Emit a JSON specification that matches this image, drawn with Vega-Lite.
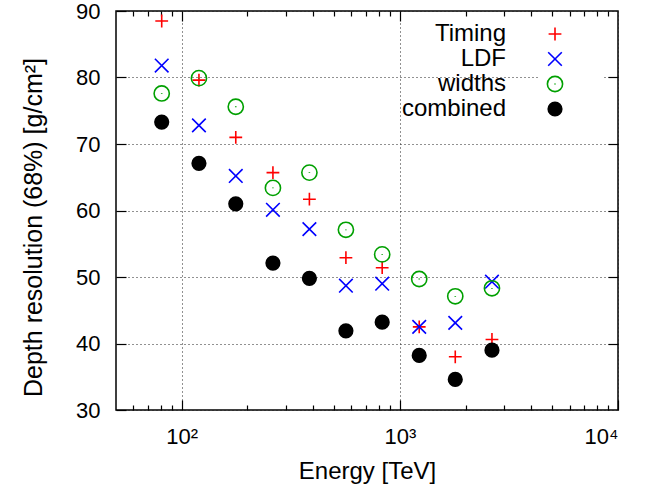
{
  "$schema": "https://vega.github.io/schema/vega-lite/v6.json",
  "width": 502,
  "height": 399,
  "autosize": "none",
  "padding": {"left": 116, "top": 11, "right": 51, "bottom": 80},
  "background": "white",
  "config": {
    "font": "Liberation Sans",
    "view": {"stroke": "#000", "strokeWidth": 1.5},
    "axis": {"labelColor": "#000", "titleColor": "#000", "tickColor": "#000", "tickWidth": 1.2, "domain": false, "titleFontWeight": "normal", "labelFont": "Liberation Sans", "titleFont": "Liberation Sans"}
  },
  "data": {
    "values": [
      {"E": 81, "v": 88.5, "s": "Timing"},
      {"E": 120, "v": 79.6, "s": "Timing"},
      {"E": 177, "v": 71.0, "s": "Timing"},
      {"E": 262, "v": 65.7, "s": "Timing"},
      {"E": 385, "v": 61.7, "s": "Timing"},
      {"E": 566, "v": 52.9, "s": "Timing"},
      {"E": 830, "v": 51.4, "s": "Timing"},
      {"E": 1227, "v": 42.5, "s": "Timing"},
      {"E": 1795, "v": 38.0, "s": "Timing"},
      {"E": 2644, "v": 40.6, "s": "Timing"},
      {"E": 81, "v": 81.8, "s": "LDF"},
      {"E": 120, "v": 72.8, "s": "LDF"},
      {"E": 177, "v": 65.2, "s": "LDF"},
      {"E": 262, "v": 60.1, "s": "LDF"},
      {"E": 385, "v": 57.2, "s": "LDF"},
      {"E": 566, "v": 48.7, "s": "LDF"},
      {"E": 830, "v": 49.0, "s": "LDF"},
      {"E": 1227, "v": 42.5, "s": "LDF"},
      {"E": 1795, "v": 43.1, "s": "LDF"},
      {"E": 2644, "v": 49.3, "s": "LDF"},
      {"E": 81, "v": 77.6, "s": "widths"},
      {"E": 120, "v": 79.9, "s": "widths"},
      {"E": 177, "v": 75.6, "s": "widths"},
      {"E": 262, "v": 63.4, "s": "widths"},
      {"E": 385, "v": 65.7, "s": "widths"},
      {"E": 566, "v": 57.1, "s": "widths"},
      {"E": 830, "v": 53.4, "s": "widths"},
      {"E": 1227, "v": 49.7, "s": "widths"},
      {"E": 1795, "v": 47.1, "s": "widths"},
      {"E": 2644, "v": 48.3, "s": "widths"},
      {"E": 81, "v": 73.3, "s": "combined"},
      {"E": 120, "v": 67.1, "s": "combined"},
      {"E": 177, "v": 61.0, "s": "combined"},
      {"E": 262, "v": 52.1, "s": "combined"},
      {"E": 385, "v": 49.8, "s": "combined"},
      {"E": 566, "v": 41.9, "s": "combined"},
      {"E": 830, "v": 43.2, "s": "combined"},
      {"E": 1227, "v": 38.2, "s": "combined"},
      {"E": 1795, "v": 34.6, "s": "combined"},
      {"E": 2644, "v": 39.0, "s": "combined"}
    ]
  },
  "resolve": {"axis": {"x": "independent", "y": "independent"}},
  "layer": [
    {
      "mark": {"type": "point", "size": 256, "strokeWidth": 1.6, "opacity": 1},
      "encoding": {
        "x": {
          "field": "E", "type": "quantitative",
          "scale": {"type": "log", "domain": [50, 10000], "nice": false},
          "axis": {
            "orient": "bottom", "values": [100, 1000, 10000],
            "labelExpr": "datum.value == 100 ? '10²' : datum.value == 1000 ? '10³' : '10⁴'",
            "labelFontSize": 22, "labelPadding": 43, "labelBaseline": "alphabetic",
            "tickSize": -10, "grid": true, "gridDash": [1, 3], "gridColor": "#222", "gridOpacity": 1, "gridWidth": 1,
            "title": "Energy [TeV]", "titleFontSize": 24, "titleY": 68, "titleBaseline": "alphabetic"
          }
        },
        "y": {
          "field": "v", "type": "quantitative",
          "scale": {"domain": [30, 90], "nice": false, "zero": false},
          "axis": {
            "orient": "left", "values": [30, 40, 50, 60, 70, 80, 90],
            "labelFontSize": 22, "labelPadding": 26,
            "tickSize": -10, "grid": true, "gridDash": [1, 3], "gridColor": "#222", "gridOpacity": 1, "gridWidth": 1,
            "title": "Depth resolution (68%) [g/cm²]", "titleFontSize": 25,
            "titleX": -83, "titleY": 216, "titleAngle": -90, "titleAlign": "center", "titleBaseline": "middle"
          }
        },
        "shape": {
          "field": "s", "type": "nominal",
          "scale": {
            "domain": ["Timing", "LDF", "widths", "combined"],
            "range": [
              "M-0.8,0H0.8M0,-0.8V0.8",
              "M-0.85,-0.85L0.85,0.85M-0.85,0.85L0.85,-0.85",
              "M0.95,0A0.95,0.95,0,1,1,-0.95,0A0.95,0.95,0,1,1,0.95,0ZM0,-0.05L0,0.05",
              "M0.85,0A0.85,0.85,0,1,1,-0.85,0A0.85,0.85,0,1,1,0.85,0Z"
            ]
          },
          "legend": {
            "title": " ", "titleOrient": "right", "titlePadding": 34, "titleFontSize": 10,
            "orient": "none", "legendX": 423, "legendY": 7,
            "fillColor": "white", "padding": 4,
            "labelAlign": "right", "labelOffset": -61, "labelFontSize": 24, "labelColor": "#000", "labelFont": "Liberation Sans",
            "symbolSize": 256, "symbolStrokeWidth": 1.6, "rowPadding": 1, "labelLimit": 300
          }
        },
        "stroke": {
          "field": "s", "type": "nominal",
          "scale": {"domain": ["Timing", "LDF", "widths", "combined"], "range": ["#ff0000", "#0000ff", "#00a000", "#000000"]}
        },
        "fill": {
          "field": "s", "type": "nominal",
          "scale": {"domain": ["Timing", "LDF", "widths", "combined"], "range": ["transparent", "transparent", "transparent", "#000000"]}
        }
      }
    },
    {
      "mark": {"type": "point", "opacity": 0},
      "encoding": {
        "x": {"field": "E", "type": "quantitative",
          "axis": {"orient": "bottom", "values": [60, 70, 80, 90, 200, 300, 400, 500, 600, 700, 800, 900, 2000, 3000, 4000, 5000, 6000, 7000, 8000, 9000], "labels": false, "tickSize": -5, "grid": false, "title": null}},
        "y": {"field": "v", "type": "quantitative",
          "axis": {"orient": "right", "values": [40, 50, 60, 70, 80], "labels": false, "tickSize": -10, "grid": false, "title": null}}
      }
    },
    {
      "mark": {"type": "point", "opacity": 0},
      "encoding": {
        "x": {"field": "E", "type": "quantitative",
          "axis": {"orient": "top", "values": [100, 1000], "labels": false, "tickSize": -10, "grid": false, "title": null}},
        "y": {"field": "v", "type": "quantitative", "axis": null}
      }
    },
    {
      "mark": {"type": "point", "opacity": 0},
      "encoding": {
        "x": {"field": "E", "type": "quantitative",
          "axis": {"orient": "top", "values": [60, 70, 80, 90, 200, 300, 400, 500, 600, 700, 800, 900, 2000, 3000, 4000, 5000, 6000, 7000, 8000, 9000], "labels": false, "tickSize": -5, "grid": false, "title": null}},
        "y": {"field": "v", "type": "quantitative", "axis": null}
      }
    }
  ]
}
